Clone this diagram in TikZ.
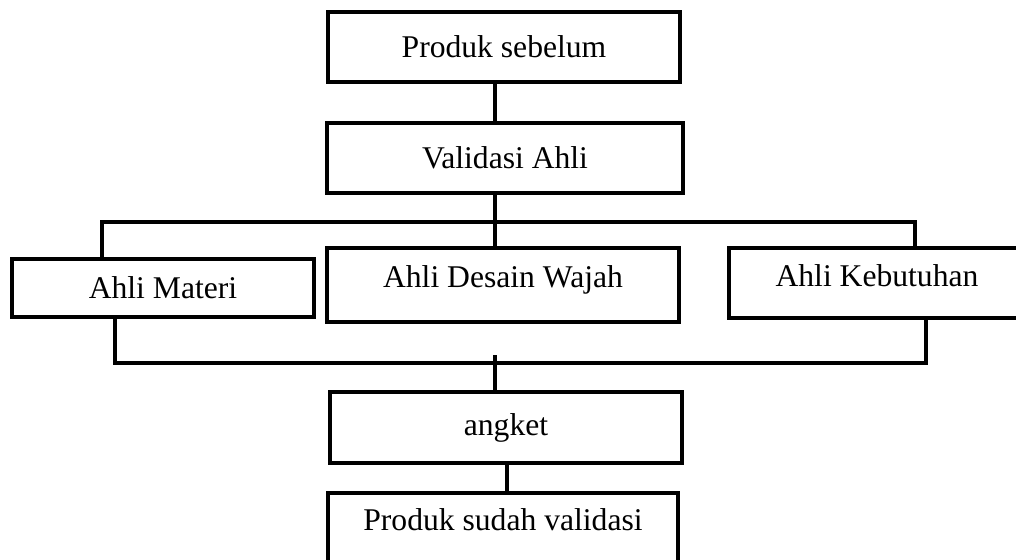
\documentclass[tikz,border=0pt]{standalone}
\usepackage{fontspec}
\setmainfont{Liberation Serif}
\usepackage{tikz}
\usetikzlibrary{positioning}

\begin{document}
\begin{tikzpicture}[
  x=0.02cm, y=-0.02cm,
  every node/.style={font=\fontsize{18}{22}\selectfont},
  box/.style={draw=black, line width=0.08cm, fill=white, inner sep=0pt, align=center},
  link/.style={draw=black, line width=0.08cm, line join=miter}
]
  \useasboundingbox (0,0) rectangle (1016,560);

  \node[box, minimum width=7.04cm, minimum height=1.40cm] (before)  at (504,47)    {Produk sebelum};
  \node[box, minimum width=7.12cm, minimum height=1.40cm] (valid)   at (505,158)   {Validasi Ahli};
  \node[box, minimum width=6.04cm, minimum height=1.16cm] (materi)  at (163,288)   {Ahli Materi};
  \node[box, minimum width=7.06cm, minimum height=1.48cm, text depth=0.35cm] (desain)  at (503,285) {Ahli Desain Wajah};
  \node[box, minimum width=5.92cm, minimum height=1.40cm, text depth=0.3cm] (kebutuhan) at (877,283) {Ahli Kebutuhan};
  \node[box, minimum width=7.04cm, minimum height=1.42cm] (angket)  at (506,427.5) {angket};
  \node[box, minimum width=7.00cm, minimum height=1.60cm, text depth=0.55cm] (after) at (503,533) {Produk sudah validasi};

  % bus points
  \coordinate (spine)  at (495,0);
  \coordinate (tail)   at (507,0);
  \coordinate (upL)    at (102,222);
  \coordinate (upR)    at (915,222);
  \coordinate (lowL)   at (115,363);
  \coordinate (lowR)   at (926,363);

  \draw[link] (before.south -| spine) -- (valid.north -| spine);
  \draw[link] (valid.south -| spine) -- (desain.north -| spine);
  \draw[link] (materi.north -| upL) -- (upL) -- (upR) -- (kebutuhan.north -| upR);
  \draw[link] (materi.south -| lowL) -- (lowL) -- (lowR) -- (kebutuhan.south -| lowR);
  \draw[link] (spine |- 0,355) -- (angket.north -| spine);
  \draw[link] (angket.south -| tail) -- (after.north -| tail);
\end{tikzpicture}
\end{document}
